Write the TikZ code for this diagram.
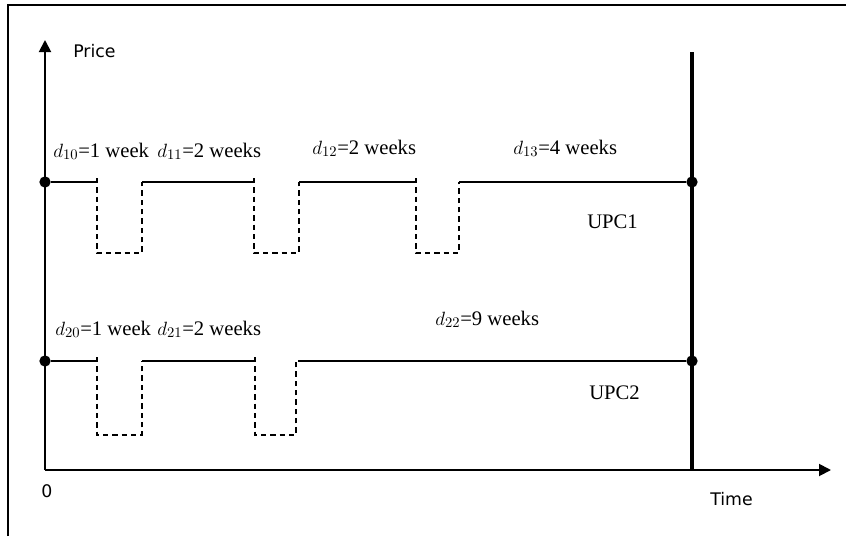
\documentclass[tikz,border=0pt]{standalone}
\usepackage{fontspec}
\setmainfont{Liberation Serif}
\setsansfont{DejaVu Sans}
\usetikzlibrary{arrows.meta,positioning}
\tikzset{
  axis/.style={line width=1.4pt,-{Triangle[length=9pt,width=9pt]}},
  horizon/.style={line width=3.6pt},
  price/.style={line width=1.2pt},
  promo/.style={line width=0.9pt,dash pattern=on 4pt off 3pt},
  pt/.style={circle,fill,inner sep=0pt,minimum size=8.5pt},
  durlabel/.style={font=\fontsize{15.5}{18}\selectfont,inner sep=0pt,anchor=base west},
  axislabel/.style={font=\sffamily\fontsize{13}{15}\selectfont,inner sep=0pt,anchor=base west}
}

\begin{document}
\begin{tikzpicture}[x=0.75pt,y=-0.75pt]
\useasboundingbox (0,0) rectangle (846,536);
% frame, only its left and top edges show
\draw[line width=1.3pt] (8,536) -- (8,5) -- (846,5);

% axes
\coordinate (O) at (45,470);
\coordinate (ytop) at (45,40);
\coordinate (xend) at (831,470);
\draw[axis] (O) -- (ytop);
\draw[axis] (O) -- (xend);
\node[axislabel] (price) at (73,57) {Price};
\node[axislabel,anchor=base] (zero) at (47,497) {0};
\node[axislabel] (time) at (710,505) {Time};

% end of the horizon
\coordinate (htop) at (692,52);
\coordinate (hbot) at (692,470);
\draw[horizon] (htop) -- (hbot);

% UPC1
\node[pt] (s1) at (45,182) {};
\node[pt] (e1) at (692,182) {};
\draw[price] (s1) -- (97,182) (142,182) -- (254,182) (299,182) -- (416,182) (459,182) -- (e1);
\foreach \a/\b in {97/142,254/299,416/459}
  \draw[promo] (\a,178) -- (\a,253) -- (\b,253) -- (\b,182);
\node[durlabel] (d10) at (53,157) {$d_{10}$=1 week};
\node[durlabel] (d11) at (157,157) {$d_{11}$=2 weeks};
\node[durlabel] (d12) at (312,154) {$d_{12}$=2 weeks};
\node[durlabel] (d13) at (513,154) {$d_{13}$=4 weeks};
\node[durlabel] (upc1) at (587,228) {UPC1};

% UPC2
\node[pt] (s2) at (45,361) {};
\node[pt] (e2) at (692,361) {};
\draw[price] (s2) -- (97,361) (142,361) -- (255,361) (298,361) -- (e2);
\foreach \a/\b in {97/142,255/296}
  \draw[promo] (\a,357) -- (\a,435) -- (\b,435) -- (\b,361);
\node[durlabel] (d20) at (55,335) {$d_{20}$=1 week};
\node[durlabel] (d21) at (157,335) {$d_{21}$=2 weeks};
\node[durlabel] (d22) at (435,325) {$d_{22}$=9 weeks};
\node[durlabel] (upc2) at (589,399) {UPC2};
\end{tikzpicture}
\end{document}
